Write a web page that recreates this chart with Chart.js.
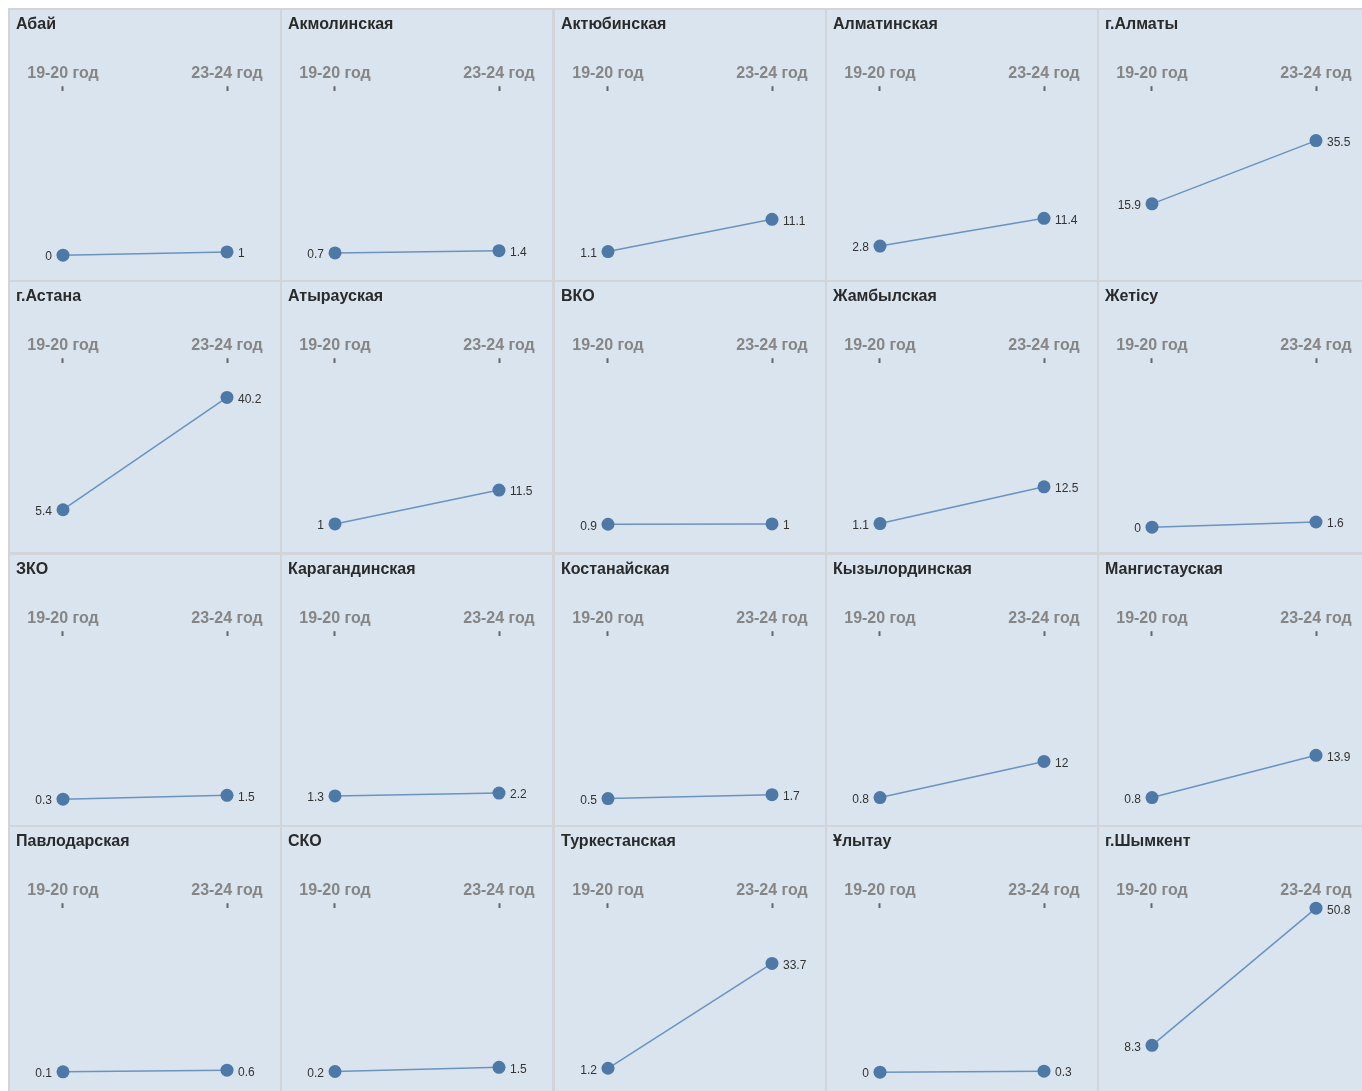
<!DOCTYPE html>
<html>
<head>
<meta charset="utf-8">
<script src="https://cdn.jsdelivr.net/npm/chart.js@4"></script>
<style>
  html, body { margin: 0; padding: 0; background: #fff; overflow: hidden; }
  #grid { position: absolute; left: 8px; top: 8px; width: 1400px; height: 1120px; background: #d1d4d8; }
  .panel { position: absolute; width: 270px; height: 270px; background: #dae4ee; }
  .panel canvas { display: block; }
</style>
</head>
<body>
<div id="grid"></div>
<script>
// Регионы и значения
const regions = ['Абай', 'Акмолинская', 'Актюбинская', 'Алматинская', 'г.Алматы',
  'г.Астана', 'Атырауская', 'ВКО', 'Жамбылская', 'Жетісу',
  'ЗКО', 'Карагандинская', 'Костанайская', 'Кызылординская', 'Мангистауская',
  'Павлодарская', 'СКО', 'Туркестанская', 'Ұлытау', 'г.Шымкент'];
const years = ['19-20 год', '23-24 год'];
const values1920 = [0, 0.7, 1.1, 2.8, 15.9, 5.4, 1, 0.9, 1.1, 0, 0.3, 1.3, 0.5, 0.8, 0.8, 0.1, 0.2, 1.2, 0, 8.3];
const values2324 = [1, 1.4, 11.1, 11.4, 35.5, 40.2, 11.5, 1, 12.5, 1.6, 1.5, 2.2, 1.7, 12, 13.9, 0.6, 1.5, 33.7, 0.3, 50.8];

const FONT = "'Liberation Sans', Arial, sans-serif";

// подписи значений слева/справа от точек
const valueLabels = {
  id: 'valueLabels',
  afterDatasetsDraw(chart) {
    const { ctx } = chart;
    const meta = chart.getDatasetMeta(0);
    const ds = chart.data.datasets[0];
    ctx.save();
    ctx.font = '12px ' + FONT;
    ctx.fillStyle = '#333';
    ctx.textBaseline = 'middle';
    meta.data.forEach((pt, i) => {
      const v = ds.data[i].y;
      if (i === 0) {
        ctx.textAlign = 'right';
        ctx.fillText(String(v), pt.x - 11, pt.y + 2);
      } else {
        ctx.textAlign = 'left';
        ctx.fillText(String(v), pt.x + 11, pt.y + 2);
      }
    });
    ctx.restore();
  }
};

const grid = document.getElementById('grid');

regions.forEach((name, i) => {
  const col = i % 5, row = Math.floor(i / 5);
  const panel = document.createElement('div');
  panel.className = 'panel';
  panel.style.left = (Math.round(2 + col * 272.3)) + 'px';
  panel.style.top = (Math.round(2 + row * 272.3)) + 'px';
  const canvas = document.createElement('canvas');
  canvas.width = 270;
  canvas.height = 270;
  panel.appendChild(canvas);
  grid.appendChild(panel);

  new Chart(canvas, {
    type: 'line',
    data: {
      datasets: [{
        data: [{ x: 0, y: values1920[i] }, { x: 1, y: values2324[i] }],
        borderColor: '#6a93bf',
        borderWidth: 1.5,
        pointRadius: 6.5,
        pointBackgroundColor: '#4e79a7',
        pointBorderWidth: 0,
        clip: false
      }]
    },
    options: {
      responsive: false,
      animation: false,
      events: [],
      layout: { autoPadding: false, padding: { left: 6, top: 0, right: 0, bottom: 0 } },
      plugins: {
        legend: { display: false },
        tooltip: { enabled: false },
        title: {
          display: true,
          text: name,
          align: 'start',
          color: '#2a2a2a',
          font: { family: FONT, size: 16, weight: 'bold', lineHeight: 1.2 },
          padding: { top: 5, bottom: 0 }
        }
      },
      scales: {
        x: {
          type: 'linear',
          position: 'top',
          min: -47 / 164,
          max: 1 + 53 / 164,
          afterBuildTicks: s => { s.ticks = [{ value: 0 }, { value: 1 }]; },
          afterFit: s => { s.height = 57; },
          ticks: {
            callback: v => years[v],
            color: '#858585',
            font: { family: FONT, size: 16, weight: 'bold', lineHeight: 1.2 },
            padding: 3,
            autoSkip: false,
            maxRotation: 0
          },
          grid: { drawOnChartArea: false, tickLength: 5, tickWidth: 2, tickColor: '#666' },
          border: { display: false }
        },
        y: { display: false, min: -7.7, max: 50.8 }
      }
    },
    plugins: [valueLabels]
  });
});
</script>
</body>
</html>
